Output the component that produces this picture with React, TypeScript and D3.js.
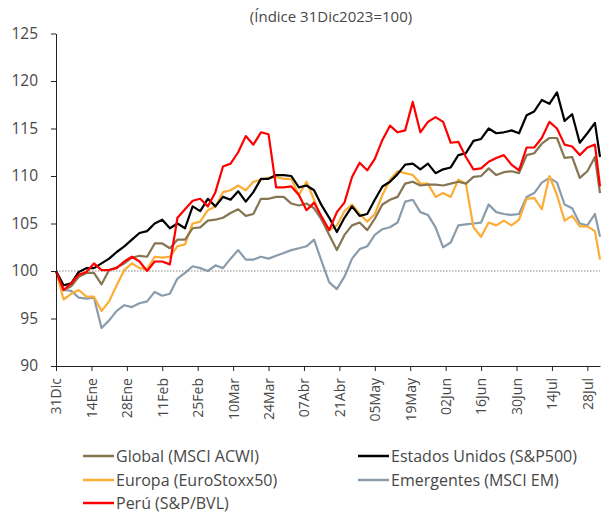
import React, { useEffect, useRef } from "react";
import * as d3 from "d3";

// days since 31 Dec 2023
const days = [
  0, 3, 6, 9, 12, 15, 18, 21, 24, 27, 30, 33, 36, 39, 42, 45, 48, 51, 54, 57,
  60, 63, 66, 69, 72, 75, 78, 81, 84, 87, 90, 93, 96, 99, 102, 105, 108, 111,
  114, 117, 120, 123, 126, 129, 132, 135, 138, 141, 144, 147, 150, 153, 156,
  159, 162, 165, 168, 171, 174, 177, 180, 183, 186, 189, 192, 195, 198, 201,
  204, 207, 210, 213, 215
];

const tickDays = [0, 14, 28, 42, 56, 70, 84, 98, 112, 126, 140, 154, 168, 182, 196, 210];
const tickLabels = [
  "31Dic", "14Ene", "28Ene", "11Feb", "25Feb", "10Mar", "24Mar", "07Abr",
  "21Abr", "05May", "19May", "02Jun", "16Jun", "30Jun", "14Jul", "28Jul"
];
const yTicks = [90, 95, 100, 105, 110, 115, 120, 125];

const globalAcwi = [
  100, 98, 98.4, 99.4, 99.8, 99.8, 98.6, 100.1, 100.4, 100.8,
  101.4, 101.6, 101.5, 102.9, 102.9, 102.4, 103.3, 103.3, 104.5, 104.6,
  105.3, 105.4, 105.6, 106.1, 106.5, 105.8, 106, 107.6, 107.6, 107.8,
  107.8, 107.1, 106.9, 107.1, 106.6, 105.4, 103.8, 102.2, 103.8, 104.8,
  105.1, 104.3, 105.5, 107, 107.5, 107.8, 109.2, 109.4, 109, 109.1,
  109.1, 109, 109.2, 109.4, 109.2, 109.9, 110, 110.8, 110.1, 110.4,
  110.5, 110.3, 112.2, 112.4, 113.4, 114, 114, 111.9, 112, 109.8,
  110.5, 112, 108.2
];

const sp500 = [
  100, 98.5, 98.7, 99.9, 100.3, 100.3, 100.8, 101.3, 102, 102.6,
  103.3, 104, 104.2, 105, 105.4, 104.5, 105, 104.5, 106.8, 106.3,
  107.6, 106.8, 107.8, 107.5, 108.4, 107.3, 108.3, 109.7, 109.7, 110.1,
  110.1, 110, 108.8, 109, 108.5, 106.9, 105.6, 104.1, 105.6, 106.8,
  105.8, 106, 107.5, 108.9, 109.4, 110.2, 111.2, 111.3, 110.7, 111.3,
  110.3, 110.7, 110.9, 112.2, 112.4, 113.7, 113.9, 115, 114.5, 114.6,
  114.8, 114.5, 116.4, 116.8, 118, 117.6, 118.8, 115.8, 116.5, 113.5,
  114.5, 115.6, 112
];

const euroStoxx = [
  100, 97, 97.6, 98, 97.3, 97.3, 95.8, 96.8, 98.5, 100.1,
  100.8, 100.3, 100.2, 101.5, 101.4, 101.5, 102.6, 102.8, 105, 105.2,
  106.4, 106.8, 108.3, 108.5, 109, 108.5, 109.4, 109.6, 109.8, 109.9,
  109.7, 109.7, 108, 109.4, 107.5, 105.4, 104.3, 104.8, 106.3, 107,
  106, 105.2, 106, 108, 109.6, 110.5, 110.3, 110.1, 109.2, 109.2,
  107.8, 108.2, 107.8, 109.6, 109.2, 104.6, 103.6, 105.1, 104.8, 105.3,
  104.8, 105.4, 107.6, 107.7, 106.5, 110, 108, 105.3, 105.8, 104.7,
  104.7, 104.2, 101.2
];

const msciEm = [
  100, 98, 97.9, 97.2, 97.1, 97.2, 94, 94.8, 95.8, 96.4,
  96.2, 96.6, 96.8, 97.8, 97.4, 97.6, 99.2, 99.8, 100.5, 100.3,
  100, 100.6, 100.3, 101.3, 102.2, 101.2, 101.2, 101.5, 101.3, 101.6,
  101.9, 102.2, 102.4, 102.6, 103.3, 101, 98.8, 98.1, 99.4, 101.3,
  102.3, 102.6, 103.8, 104.4, 104.6, 105.1, 107.3, 107.5, 106.2, 105.9,
  104.6, 102.5, 103, 104.8, 104.9, 105, 105.1, 107, 106.2, 106,
  105.9, 106, 107.8, 108.2, 109.3, 109.8, 109.3, 107, 106.6, 105,
  104.8, 106, 103.6
];

const bvl = [
  100, 98, 98.7, 99.6, 99.9, 100.8, 100.1, 100.1, 100.3, 101,
  101.5, 101, 100, 101, 101, 100.7, 105.6, 106.5, 107.4, 107.6,
  106.8, 108.3, 111, 111.3, 112.5, 114.2, 113.3, 114.6, 114.4, 108.8,
  108.8, 108.9, 108, 106.4, 107.2, 105.7, 104.3, 106.2, 107.2, 109.9,
  111.4, 110.6, 111.8, 113.8, 115.3, 114.6, 114.8, 117.8, 114.6, 115.7,
  116.2, 115.7, 113.5, 113.6, 112, 110.7, 110.8, 111.5, 111.9, 112.2,
  111.2, 110.6, 113, 113, 114, 115.7, 115, 113.3, 113.1, 112.2,
  113, 113.3, 108.9
];

// drawing order (bottom to top)
const series = [
  { name: "Emergentes (MSCI EM)", color: "#8a9cab", values: msciEm },
  { name: "Europa (EuroStoxx50)", color: "#fbad35", values: euroStoxx },
  { name: "Global (MSCI ACWI)", color: "#857550", values: globalAcwi },
  { name: "Estados Unidos (S&P500)", color: "#000000", values: sp500 },
  { name: "Perú (S&P/BVL)", color: "#ff0000", values: bvl }
];

// legend layout order
const legendOrder = [
  "Global (MSCI ACWI)",
  "Estados Unidos (S&P500)",
  "Europa (EuroStoxx50)",
  "Emergentes (MSCI EM)",
  "Perú (S&P/BVL)"
];

const W = 609;
const H = 513;
const FONT = "'Open Sans', 'Noto Sans', sans-serif";
const TEXT = "#474747";

export default function App() {
  const ref = useRef<SVGSVGElement>(null);

  useEffect(() => {
    const svg = d3.select(ref.current);
    svg.selectAll("*").remove();

    const x = d3.scaleLinear().domain([0, 215]).range([56, 600]);
    const y = d3.scaleLinear().domain([90, 125]).range([366, 33.5]);

    // title
    svg
      .append("text")
      .attr("x", 331)
      .attr("y", 22)
      .attr("text-anchor", "middle")
      .attr("font-size", 15)
      .attr("fill", TEXT)
      .text("(Índice 31Dic2023=100)");

    // reference line at 100
    svg
      .append("line")
      .attr("x1", x(0))
      .attr("x2", x(215))
      .attr("y1", y(100))
      .attr("y2", y(100))
      .attr("stroke", "#888")
      .attr("stroke-width", 1)
      .attr("stroke-dasharray", "1.5,1.5");

    const line = d3
      .line<number>()
      .x((_, i) => x(days[i]))
      .y(d => y(d));

    series.forEach(s => {
      svg
        .append("path")
        .datum(s.values)
        .attr("fill", "none")
        .attr("stroke", s.color)
        .attr("stroke-width", 2.2)
        .attr("stroke-linejoin", "round")
        .attr("d", line);
    });

    // y axis
    const gy = svg
      .append("g")
      .attr("transform", `translate(${x(0)},0)`)
      .call(
        d3
          .axisLeft(y)
          .tickValues(yTicks)
          .tickSize(5)
          .tickSizeOuter(0)
          .tickPadding(13)
      );
    gy.selectAll("path, line").attr("stroke", "#222");
    gy.selectAll("text")
      .attr("font-size", 15.5)
      .attr("font-family", FONT)
      .attr("fill", TEXT);

    // x axis
    const gx = svg
      .append("g")
      .attr("transform", `translate(0,${y(90)})`)
      .call(
        d3
          .axisBottom(x)
          .tickValues(tickDays)
          .tickFormat((_, i) => tickLabels[i])
          .tickSize(5)
          .tickSizeOuter(0)
      );
    gx.selectAll("path, line").attr("stroke", "#222");
    gx.selectAll("text")
      .attr("font-size", 14)
      .attr("font-family", FONT)
      .attr("fill", TEXT)
      .attr("transform", "rotate(-90)")
      .attr("text-anchor", "end")
      .attr("x", -12)
      .attr("y", 0)
      .attr("dy", "0.35em");

    // legend
    const colX = [83, 358];
    const rowY = [456, 480, 503];
    legendOrder.forEach((name, i) => {
      const s = series.find(d => d.name === name)!;
      const lx = colX[i % 2];
      const ly = rowY[Math.floor(i / 2)];
      svg
        .append("line")
        .attr("x1", lx)
        .attr("x2", lx + 31)
        .attr("y1", ly)
        .attr("y2", ly)
        .attr("stroke", s.color)
        .attr("stroke-width", 2.5);
      svg
        .append("text")
        .attr("x", lx + 33)
        .attr("y", ly)
        .attr("dy", "0.35em")
        .attr("font-size", 16)
        .attr("fill", TEXT)
        .text(name);
    });
  }, []);

  return (
    <svg
      ref={ref}
      width={W}
      height={H}
      style={{ position: "absolute", left: 0, top: 0, background: "#fff", fontFamily: FONT }}
    />
  );
}
